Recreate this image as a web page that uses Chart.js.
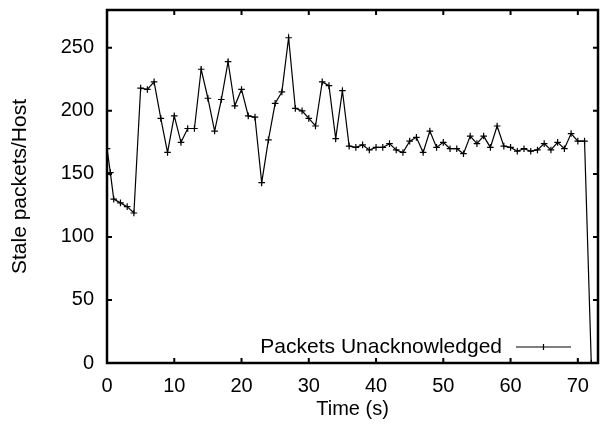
<!DOCTYPE html>
<html>
<head>
<meta charset="utf-8">
<script src="https://cdn.jsdelivr.net/npm/chart.js@4"></script>
<style>
    html, body { margin: 0; padding: 0; background: #fff; }
    #wrap { width: 605px; height: 429px; }
</style>
</head>
<body>
<div id="wrap"><canvas id="staleChart" width="605" height="429"></canvas></div>
<script>
// Values
const times = [0, 0.5, 1, 2, 3, 4, 5, 6, 7, 8, 9, 10, 11, 12, 13, 14, 15, 16, 17, 18, 19, 20,
    21, 22, 23, 24, 25, 26, 27, 28, 29, 30, 31, 32, 33, 34, 35, 36, 37, 38, 39, 40,
    41, 42, 43, 44, 45, 46, 47, 48, 49, 50, 51, 52, 53, 54, 55, 56, 57, 58, 59, 60,
    61, 62, 63, 64, 65, 66, 67, 68, 69, 70, 71, 72];
const unacked = [170, 151, 130, 127, 124, 119, 218, 217, 223, 194, 167, 196, 175, 186, 186, 233, 210, 184, 209, 239, 204, 217,
    196, 195, 143, 177, 206, 215, 258, 202, 200, 194, 188, 223, 220, 178, 216, 172, 171, 173, 169, 171,
    171, 174, 169, 167, 176, 179, 167, 184, 171, 175, 170, 170, 166, 180, 174, 180, 171, 188, 172, 171,
    168, 170, 168, 169, 174, 169, 175, 170, 182, 176, 176, 0];
const xTicks = [0, 10, 20, 30, 40, 50, 60, 70];
const yTicks = [0, 50, 100, 150, 200, 250];

const FONT = '"Liberation Sans", Arial, Helvetica, sans-serif';

// gnuplot-ish frame: full border + inward ticks on all four sides
const framePlugin = {
    id: 'frame',
    afterDraw(chart) {
        const ctx = chart.ctx;
        const a = chart.chartArea;
        const xs = chart.scales.x;
        const ys = chart.scales.y;
        const len = 5;
        ctx.save();
        ctx.strokeStyle = '#000';
        ctx.lineWidth = 2;
        ctx.beginPath();
        xs.ticks.forEach(t => {
            const px = xs.getPixelForValue(t.value);
            ctx.moveTo(px, a.bottom); ctx.lineTo(px, a.bottom - len);
            ctx.moveTo(px, a.top); ctx.lineTo(px, a.top + len);
        });
        ys.ticks.forEach(t => {
            const py = ys.getPixelForValue(t.value);
            ctx.moveTo(a.left, py); ctx.lineTo(a.left + len, py);
            ctx.moveTo(a.right, py); ctx.lineTo(a.right - len, py);
        });
        ctx.stroke();
        ctx.lineWidth = 2.5;
        ctx.strokeRect(a.left, a.top, a.right - a.left, a.bottom - a.top);

        // legend, bottom right inside the plot
        const ds = chart.data.datasets[0];
        const ly = a.bottom - 16;
        const lineEnd = a.right - 27;
        const lineStart = a.right - 82;
        ctx.font = '21px ' + FONT;
        ctx.fillStyle = '#000';
        ctx.textAlign = 'right';
        ctx.textBaseline = 'middle';
        ctx.fillText(ds.label, a.right - 96, ly);
        ctx.lineWidth = 1.2;
        ctx.beginPath();
        ctx.moveTo(lineStart, ly); ctx.lineTo(lineEnd, ly);
        const mx = (lineStart + lineEnd) / 2;
        ctx.moveTo(mx - 3, ly); ctx.lineTo(mx + 3, ly);
        ctx.moveTo(mx, ly - 3); ctx.lineTo(mx, ly + 3);
        ctx.stroke();
        ctx.restore();
    }
};

new Chart(document.getElementById('staleChart'), {
    type: 'line',
    data: {
        datasets: [{
            label: 'Packets Unacknowledged',
            data: times.map((t, i) => ({ x: t, y: unacked[i] })),
            borderColor: '#000',
            borderWidth: 1.2,
            pointStyle: 'cross',
            pointRadius: 3.3,
            pointBorderColor: '#000',
            pointBorderWidth: 1.2,
            tension: 0,
            fill: false
        }]
    },
    options: {
        responsive: false,
        animation: false,
        layout: { padding: { top: 10, right: 7, left: 0, bottom: 0 } },
        plugins: {
            legend: { display: false },
            tooltip: { enabled: false }
        },
        scales: {
            x: {
                type: 'linear',
                min: 0,
                max: 73,
                afterBuildTicks: s => { s.ticks = xTicks.map(v => ({ value: v })); },
                afterFit: s => { s.height = 66; s.paddingLeft = 0; s.paddingRight = 0; },
                grid: { display: false, drawTicks: false },
                border: { display: false },
                ticks: { color: '#000', padding: 11, maxRotation: 0, font: { family: FONT, size: 20 } },
                title: { display: true, text: 'Time (s)', color: '#000', padding: { top: 0, bottom: 8 }, font: { family: FONT, size: 20 } }
            },
            y: {
                min: 0,
                max: 280,
                afterBuildTicks: s => { s.ticks = yTicks.map(v => ({ value: v })); },
                afterFit: s => { s.width = 107; s.paddingTop = 0; s.paddingBottom = 0; },
                grid: { display: false, drawTicks: false },
                border: { display: false },
                ticks: { color: '#000', padding: 13, font: { family: FONT, size: 20 } },
                title: { display: true, text: 'Stale packets/Host', color: '#000', padding: { top: 8, bottom: 0 }, font: { family: FONT, size: 21 } }
            }
        }
    },
    plugins: [framePlugin]
});
</script>
</body>
</html>
